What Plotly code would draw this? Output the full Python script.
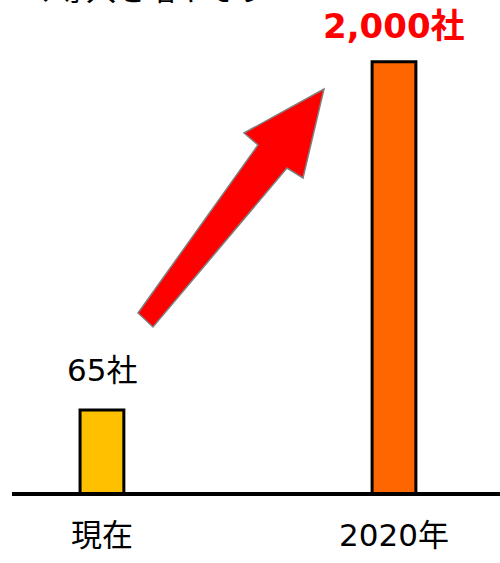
import math
import plotly.graph_objects as go

categories = ["現在", "2020年"]
values = [65, 2000]
bar_colors = ["#FFC000", "#FF6600"]
label_colors = ["#000000", "#FF0000"]
label_bold = [False, True]
title_text = "く導入を増やそう"

FONT = "DejaVu Sans, Noto Sans CJK JP"
W, H = 500, 563
L, R, T, B = 12, 0, 0, 71
pw, ph = W - L - R, H - T - B

fig = go.Figure()
fig.add_trace(go.Bar(
    x=[0, 1], y=values,
    width=0.15,
    marker=dict(color=bar_colors, line=dict(color="#000000", width=3)),
    hoverinfo="skip",
))

for i, v in enumerate(values):
    txt = f"{v:,}社"
    if label_bold[i]:
        txt = f"<b>{txt}</b>"
    fig.add_annotation(
        x=i, y=math.log10(v), xref="x", yref="y",
        text=txt, showarrow=False, yanchor="bottom", yshift=14 if label_bold[i] else 20,
        font=dict(size=34 if label_bold[i] else 31, color=label_colors[i], family=FONT),
    )

def px(x, y):
    return (x - L) / pw, (H - B - y) / ph

arrow_px = [(138, 313), (258, 145), (244, 133), (324, 89), (303, 178), (287, 168), (153, 327)]
path = ""
for k, (x, y) in enumerate(arrow_px):
    a, b = px(x, y)
    path += ("M" if k == 0 else "L") + f"{a:.4f},{b:.4f} "
path += "Z"
fig.add_shape(type="path", path=path, xref="paper", yref="paper",
              fillcolor="#FF0000", line=dict(color="#7F7F7F", width=1.5), layer="above")

fig.add_annotation(x=(24 - L) / pw, y=(H - B - 9) / ph, xref="paper", yref="paper",
                   xanchor="left", yanchor="bottom", showarrow=False, text=title_text,
                   font=dict(size=30, color="#000000", family=FONT))

fig.update_layout(
    width=W, height=H,
    margin=dict(l=L, r=R, t=T, b=B, pad=0),
    paper_bgcolor="white", plot_bgcolor="white",
    showlegend=False,
    xaxis=dict(
        range=[-0.308, 1.363], tickmode="array", tickvals=[0, 1], ticktext=categories,
        showline=True, linecolor="#000000", linewidth=4, showgrid=False, zeroline=False,
        ticks="", tickfont=dict(size=31, color="#000000", family=FONT),
        ticklabelstandoff=13,
    ),
    yaxis=dict(type="log", range=[math.log10(29), 3.565], visible=False,
               showgrid=False, zeroline=False),
)

fig.write_html("out.html", config={"displayModeBar": False},
               post_script="document.body.style.margin='0px';")
